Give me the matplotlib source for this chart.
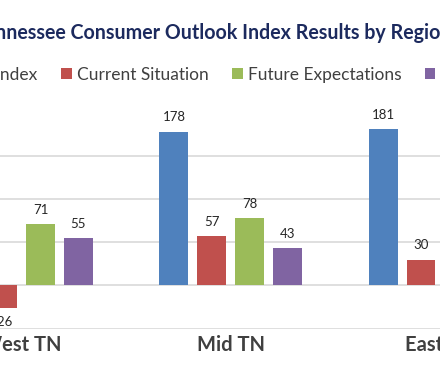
import numpy as np
import matplotlib
matplotlib.use("Agg")
import matplotlib.pyplot as plt
from matplotlib.patches import Patch

plt.rcParams['font.family'] = ['Lato', 'DejaVu Sans']

# data (index = sum of the three components)
regions = ["West TN", "Mid TN", "East TN"]
series = ["Index", "Current Situation", "Future Expectations", "Purchasing Plans"]
index_vals = [100, 178, 181]
current_vals = [-26, 57, 30]
future_vals = [71, 78, 88]
purchase_vals = [55, 43, 63]
colors = ["#4F81BD", "#C0504D", "#9BBB59", "#8064A2"]

W, H = 440, 382
fig = plt.figure(figsize=(W / 100, H / 100), dpi=100)

# axes placed so the picture is a crop of the wider chart
y_top, y_bot = 112.5, 328.7
group_px = 213.4
x0_px = 22.0
ax = fig.add_axes([0, 1 - y_bot / H, 1, (y_bot - y_top) / H])
ax.set_xlim(-x0_px / group_px, (W - x0_px) / group_px)
ax.set_ylim(-50, 200)

x = np.arange(len(regions))
pitch = 38.7 / group_px
width = 29.5 / group_px
all_vals = [index_vals, current_vals, future_vals, purchase_vals]
for i, (vals, c, name) in enumerate(zip(all_vals, colors, series)):
    bars = ax.bar(x + (i - 1.5) * pitch, vals, width, color=c, label=name, zorder=3)
    ax.bar_label(bars, labels=[str(v) for v in vals],
                 padding=6, fontsize=9.5, color="#262626")

ax.set_yticks([-50, 0, 50, 100, 150, 200])
ax.yaxis.grid(True, color="#D9D9D9", linewidth=1.2, zorder=0)
ax.tick_params(axis="y", left=False, labelleft=False)
ax.tick_params(axis="x", bottom=False, pad=1)
ax.set_xticks(x)
ax.set_xticklabels(regions, fontsize=14.5, fontweight="bold", color="#404040")
for s in ax.spines.values():
    s.set_visible(False)

fig.text(-27 / W, 1 - 33 / H, "Tennessee Consumer Outlook Index Results by Region",
         ha="left", va="center", fontsize=14.1, fontweight="bold", color="#1C2A5E")

handles = [Patch(facecolor=c, edgecolor="none") for c in colors]
fig.legend(handles, series, loc="center left", bbox_to_anchor=(-20 / W, 1 - 75 / H),
           ncol=4, frameon=False, fontsize=12.5, handlelength=0.6, handleheight=0.6,
           handletextpad=0.3, columnspacing=1.35, borderpad=0, borderaxespad=0,
           labelcolor="#404040")

fig.savefig("out.png", dpi=100)
